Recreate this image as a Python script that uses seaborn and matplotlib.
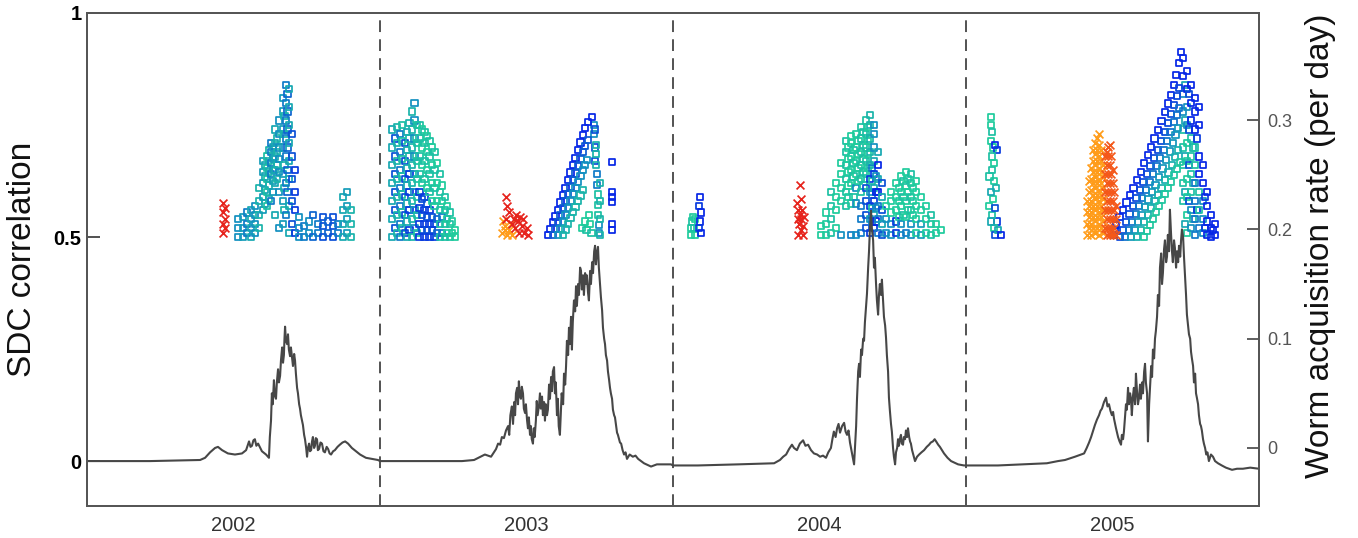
import numpy as np
import pandas as pd
import matplotlib
matplotlib.use("Agg")
import matplotlib.pyplot as plt
from matplotlib.colors import LinearSegmentedColormap
import seaborn as sns

# worm acquisition rate (per day): (year, rate)
rate_pts = [
    # 2002
    (2002.000, -0.012), (2002.215, -0.012), (2002.386, -0.011), (2002.403, -0.009), (2002.420, -0.004),
    (2002.437, 0.000), (2002.447, 0.001), (2002.461, -0.002), (2002.481, -0.005), (2002.505, -0.006),
    (2002.529, -0.005), (2002.543, -0.002), (2002.553, 0.006), (2002.558, 0.001), (2002.563, 0.002),
    (2002.568, 0.007), (2002.573, 0.008), (2002.578, 0.002), (2002.584, 0.004), (2002.597, -0.003),
    (2002.611, -0.006), (2002.621, -0.009), (2002.624, 0.010), (2002.628, 0.025), (2002.631, 0.050),
    (2002.634, 0.040), (2002.638, 0.062), (2002.641, 0.048), (2002.645, 0.045), (2002.648, 0.060),
    (2002.652, 0.072), (2002.655, 0.060), (2002.659, 0.066), (2002.662, 0.080), (2002.666, 0.092),
    (2002.669, 0.078), (2002.672, 0.085), (2002.674, 0.100), (2002.676, 0.111), (2002.679, 0.098),
    (2002.683, 0.095), (2002.686, 0.104), (2002.689, 0.090), (2002.693, 0.084), (2002.696, 0.092),
    (2002.700, 0.082), (2002.703, 0.075), (2002.707, 0.086), (2002.710, 0.080), (2002.713, 0.068),
    (2002.717, 0.055), (2002.720, 0.050), (2002.724, 0.040), (2002.727, 0.036), (2002.730, 0.030),
    (2002.734, 0.025), (2002.737, 0.021), (2002.741, 0.012), (2002.744, 0.008), (2002.748, 0.000),
    (2002.751, -0.008), (2002.754, 0.000), (2002.758, 0.004), (2002.761, -0.003), (2002.765, -0.002),
    (2002.768, 0.006), (2002.771, 0.010), (2002.775, 0.000), (2002.778, 0.002), (2002.781, 0.009),
    (2002.785, 0.008), (2002.788, -0.002), (2002.792, -0.001), (2002.797, 0.005), (2002.802, 0.004),
    (2002.807, -0.003), (2002.812, -0.004), (2002.818, 0.001), (2002.823, -0.001), (2002.828, -0.005),
    (2002.833, -0.006), (2002.840, -0.003), (2002.846, -0.002), (2002.855, 0.001), (2002.863, 0.003),
    (2002.872, 0.005), (2002.881, 0.006), (2002.891, 0.004), (2002.904, 0.000), (2002.918, -0.003),
    (2002.932, -0.006), (2002.952, -0.009), (2002.973, -0.010), (2002.993, -0.011),
    # 2003
    (2003.000, -0.012), (2003.133, -0.012), (2003.280, -0.012), (2003.321, -0.011), (2003.358, -0.006),
    (2003.379, -0.008), (2003.396, -0.001), (2003.403, 0.004), (2003.410, 0.003), (2003.416, 0.010),
    (2003.423, 0.009), (2003.430, 0.016), (2003.437, 0.020), (2003.441, 0.012), (2003.445, 0.030),
    (2003.450, 0.038), (2003.454, 0.022), (2003.458, 0.042), (2003.461, 0.030), (2003.464, 0.050),
    (2003.468, 0.055), (2003.471, 0.040), (2003.474, 0.061), (2003.477, 0.048), (2003.481, 0.045),
    (2003.484, 0.056), (2003.488, 0.050), (2003.491, 0.036), (2003.495, 0.032), (2003.498, 0.040),
    (2003.502, 0.025), (2003.505, 0.018), (2003.508, 0.028), (2003.512, 0.012), (2003.515, 0.020),
    (2003.518, 0.008), (2003.522, 0.004), (2003.525, 0.018), (2003.528, 0.010), (2003.532, 0.025),
    (2003.535, 0.043), (2003.538, 0.030), (2003.543, 0.040), (2003.546, 0.050), (2003.549, 0.036),
    (2003.553, 0.047), (2003.556, 0.030), (2003.560, 0.042), (2003.563, 0.025), (2003.566, 0.040),
    (2003.570, 0.030), (2003.573, 0.035), (2003.577, 0.058), (2003.580, 0.045), (2003.584, 0.065),
    (2003.587, 0.052), (2003.590, 0.070), (2003.594, 0.074), (2003.597, 0.050), (2003.600, 0.060),
    (2003.604, 0.030), (2003.607, 0.045), (2003.610, 0.020), (2003.614, 0.012), (2003.617, 0.030),
    (2003.620, 0.050), (2003.625, 0.040), (2003.628, 0.068), (2003.632, 0.058), (2003.635, 0.075),
    (2003.638, 0.098), (2003.642, 0.085), (2003.645, 0.110), (2003.648, 0.095), (2003.652, 0.120),
    (2003.655, 0.090), (2003.658, 0.115), (2003.662, 0.135), (2003.666, 0.125), (2003.669, 0.148),
    (2003.672, 0.130), (2003.676, 0.150), (2003.679, 0.140), (2003.683, 0.165), (2003.686, 0.162),
    (2003.689, 0.145), (2003.693, 0.158), (2003.696, 0.140), (2003.700, 0.160), (2003.703, 0.150),
    (2003.706, 0.158), (2003.710, 0.142), (2003.713, 0.135), (2003.717, 0.162), (2003.720, 0.150),
    (2003.724, 0.170), (2003.727, 0.160), (2003.731, 0.180), (2003.734, 0.185), (2003.737, 0.168),
    (2003.740, 0.178), (2003.744, 0.184), (2003.747, 0.165), (2003.751, 0.150), (2003.754, 0.138),
    (2003.758, 0.126), (2003.761, 0.110), (2003.765, 0.100), (2003.768, 0.095), (2003.771, 0.085),
    (2003.775, 0.080), (2003.778, 0.070), (2003.782, 0.062), (2003.785, 0.055), (2003.788, 0.050),
    (2003.792, 0.045), (2003.795, 0.035), (2003.799, 0.030), (2003.802, 0.028), (2003.806, 0.020),
    (2003.809, 0.014), (2003.812, 0.012), (2003.816, 0.008), (2003.819, 0.005), (2003.823, 0.004),
    (2003.828, -0.002), (2003.833, -0.006), (2003.838, -0.004), (2003.843, -0.010), (2003.852, -0.006),
    (2003.863, -0.008), (2003.872, -0.007), (2003.881, -0.010), (2003.901, -0.014), (2003.925, -0.017),
    (2003.945, -0.015), (2003.973, -0.015), (2003.993, -0.015),
    # 2004
    (2004.000, -0.016), (2004.085, -0.016), (2004.222, -0.015), (2004.345, -0.014), (2004.365, -0.011),
    (2004.376, -0.008), (2004.386, -0.006), (2004.396, -0.001), (2004.406, 0.003), (2004.413, 0.000),
    (2004.423, -0.002), (2004.433, 0.004), (2004.444, 0.007), (2004.452, 0.002), (2004.461, 0.003),
    (2004.471, -0.002), (2004.481, -0.005), (2004.492, -0.006), (2004.502, -0.008), (2004.512, -0.007),
    (2004.522, -0.009), (2004.530, -0.004), (2004.539, 0.000), (2004.544, 0.008), (2004.549, 0.015),
    (2004.555, 0.010), (2004.560, 0.018), (2004.565, 0.022), (2004.570, 0.014), (2004.577, 0.020),
    (2004.584, 0.023), (2004.589, 0.015), (2004.594, 0.012), (2004.599, 0.016), (2004.604, 0.005),
    (2004.611, -0.005), (2004.618, -0.015), (2004.621, 0.000), (2004.625, 0.020), (2004.628, 0.045),
    (2004.632, 0.070), (2004.635, 0.077), (2004.638, 0.065), (2004.642, 0.090), (2004.645, 0.085),
    (2004.649, 0.100), (2004.652, 0.098), (2004.655, 0.115), (2004.659, 0.130), (2004.662, 0.141),
    (2004.666, 0.165), (2004.669, 0.180), (2004.672, 0.200), (2004.676, 0.217), (2004.679, 0.200),
    (2004.683, 0.190), (2004.686, 0.165), (2004.689, 0.174), (2004.693, 0.150), (2004.696, 0.135),
    (2004.700, 0.122), (2004.703, 0.140), (2004.706, 0.150), (2004.710, 0.140), (2004.713, 0.154),
    (2004.717, 0.135), (2004.720, 0.120), (2004.724, 0.112), (2004.727, 0.101), (2004.730, 0.085),
    (2004.734, 0.070), (2004.737, 0.046), (2004.740, 0.035), (2004.744, 0.022), (2004.747, 0.015),
    (2004.751, 0.000), (2004.754, -0.008), (2004.758, -0.015), (2004.761, -0.004), (2004.765, 0.000),
    (2004.768, 0.008), (2004.771, 0.002), (2004.775, 0.009), (2004.778, 0.012), (2004.781, 0.004),
    (2004.785, 0.003), (2004.788, 0.010), (2004.792, 0.008), (2004.795, 0.016), (2004.799, 0.010),
    (2004.802, 0.018), (2004.806, 0.010), (2004.809, 0.006), (2004.812, 0.004), (2004.816, -0.002),
    (2004.820, -0.006), (2004.826, -0.012), (2004.833, -0.008), (2004.840, -0.006), (2004.848, -0.004),
    (2004.857, -0.002), (2004.866, 0.001), (2004.874, 0.003), (2004.880, 0.005), (2004.887, 0.006),
    (2004.893, 0.008), (2004.898, 0.006), (2004.905, 0.003), (2004.911, 0.001), (2004.918, -0.002),
    (2004.925, -0.005), (2004.937, -0.009), (2004.949, -0.012), (2004.973, -0.015), (2004.993, -0.016),
    # 2005
    (2005.000, -0.016), (2005.109, -0.016), (2005.276, -0.014), (2005.314, -0.012), (2005.338, -0.011),
    (2005.372, -0.008), (2005.403, -0.005), (2005.412, 0.000), (2005.420, 0.005), (2005.427, 0.010),
    (2005.433, 0.015), (2005.440, 0.021), (2005.447, 0.026), (2005.454, 0.030), (2005.459, 0.034),
    (2005.464, 0.036), (2005.471, 0.042), (2005.478, 0.046), (2005.483, 0.038), (2005.488, 0.040),
    (2005.493, 0.034), (2005.498, 0.030), (2005.502, 0.033), (2005.505, 0.027), (2005.512, 0.018),
    (2005.519, 0.010), (2005.524, 0.006), (2005.529, 0.003), (2005.532, 0.012), (2005.536, 0.008),
    (2005.539, 0.015), (2005.543, 0.030), (2005.546, 0.040), (2005.549, 0.035), (2005.553, 0.055),
    (2005.556, 0.040), (2005.560, 0.050), (2005.563, 0.045), (2005.566, 0.030), (2005.570, 0.048),
    (2005.573, 0.055), (2005.577, 0.040), (2005.580, 0.068), (2005.584, 0.050), (2005.587, 0.040),
    (2005.590, 0.045), (2005.594, 0.058), (2005.597, 0.045), (2005.601, 0.060), (2005.604, 0.050),
    (2005.608, 0.070), (2005.611, 0.077), (2005.614, 0.060), (2005.618, 0.050), (2005.621, 0.006),
    (2005.625, 0.040), (2005.628, 0.055), (2005.632, 0.075), (2005.635, 0.065), (2005.638, 0.090),
    (2005.642, 0.082), (2005.645, 0.100), (2005.648, 0.107), (2005.652, 0.120), (2005.655, 0.140),
    (2005.659, 0.130), (2005.662, 0.165), (2005.666, 0.178), (2005.669, 0.150), (2005.672, 0.160),
    (2005.676, 0.182), (2005.679, 0.190), (2005.683, 0.170), (2005.686, 0.175), (2005.689, 0.195),
    (2005.693, 0.180), (2005.696, 0.218), (2005.700, 0.195), (2005.703, 0.180), (2005.706, 0.170),
    (2005.710, 0.190), (2005.713, 0.183), (2005.717, 0.165), (2005.720, 0.180), (2005.724, 0.170),
    (2005.727, 0.185), (2005.731, 0.175), (2005.734, 0.190), (2005.737, 0.200), (2005.741, 0.193),
    (2005.744, 0.175), (2005.747, 0.160), (2005.751, 0.140), (2005.754, 0.122), (2005.758, 0.112),
    (2005.761, 0.104), (2005.765, 0.100), (2005.768, 0.088), (2005.771, 0.082), (2005.775, 0.075),
    (2005.778, 0.060), (2005.782, 0.068), (2005.785, 0.050), (2005.788, 0.046), (2005.792, 0.040),
    (2005.795, 0.030), (2005.799, 0.022), (2005.802, 0.020), (2005.805, 0.016), (2005.809, 0.008),
    (2005.812, 0.004), (2005.816, 0.000), (2005.820, -0.006), (2005.824, -0.004), (2005.829, -0.012),
    (2005.836, -0.006), (2005.843, -0.008), (2005.850, -0.012), (2005.860, -0.014), (2005.873, -0.016),
    (2005.887, -0.018), (2005.898, -0.019), (2005.908, -0.020), (2005.925, -0.019), (2005.945, -0.019),
    (2005.970, -0.018), (2006.000, -0.019),
]

# SDC correlation above 0.5, squares: columns of (year, shade, correlations)
# shade 0 = teal, 1 = blue
sq_cols = [
    # 2002
    (2002.515, 0.5, [0.50, 0.52, 0.54]), (2002.532, 0.4, [0.50, 0.52, 0.545]),
    (2002.546, 0.6, [0.51, 0.53, 0.555]), (2002.560, 0.3, [0.50, 0.52, 0.54, 0.56]),
    (2002.573, 0.5, [0.51, 0.53, 0.55, 0.57]), (2002.587, 0.2, [0.52, 0.55, 0.58, 0.61]),
    (2002.601, 0.4, [0.56, 0.59, 0.62, 0.645, 0.67]), (2002.607, 0.3, [0.575, 0.605, 0.635, 0.66]),
    (2002.614, 0.1, [0.57, 0.60, 0.63, 0.655, 0.68]), (2002.621, 0.2, [0.585, 0.615, 0.645, 0.67, 0.695]),
    (2002.628, 0.6, [0.58, 0.64, 0.665, 0.69, 0.71]), (2002.635, 0.4, [0.60, 0.625, 0.65, 0.675, 0.70]),
    (2002.642, 0.3, [0.55, 0.62, 0.65, 0.68, 0.71, 0.74]), (2002.649, 0.2, [0.63, 0.66, 0.69, 0.72]),
    (2002.655, 0.5, [0.52, 0.60, 0.645, 0.675, 0.70, 0.73, 0.76]),
    (2002.669, 0.4, [0.53, 0.58, 0.64, 0.70, 0.74, 0.78, 0.81]), (2002.674, 0.2, [0.56, 0.61, 0.66, 0.73, 0.77]),
    (2002.679, 0.6, [0.55, 0.62, 0.68, 0.72, 0.76, 0.80, 0.84]), (2002.684, 0.7, [0.60, 0.65, 0.70, 0.74, 0.78, 0.82]),
    (2002.689, 0.3, [0.51, 0.57, 0.63, 0.67, 0.71, 0.75, 0.79, 0.83]),
    (2002.700, 0.8, [0.53, 0.58, 0.63, 0.68, 0.73]), (2002.710, 0.9, [0.51, 0.56, 0.60, 0.65]),
    (2002.724, 0.5, [0.50, 0.52, 0.545]), (2002.741, 0.6, [0.50, 0.525]), (2002.758, 0.5, [0.51, 0.535]),
    (2002.771, 0.7, [0.50, 0.55]), (2002.788, 0.6, [0.51, 0.53]), (2002.805, 0.8, [0.50, 0.525, 0.545]),
    (2002.823, 0.7, [0.51, 0.535]), (2002.840, 0.8, [0.50, 0.525, 0.545]), (2002.857, 0.6, [0.51, 0.53]),
    (2002.874, 0.3, [0.50, 0.53, 0.56, 0.59]), (2002.887, 0.4, [0.51, 0.54, 0.57, 0.60]),
    (2002.901, 0.2, [0.50, 0.53, 0.56]),
    # 2003, first burst
    (2003.041, 0.3, [0.50, 0.54, 0.58, 0.62, 0.66, 0.70, 0.74]), (2003.050, 0.8, [0.52, 0.56, 0.60, 0.64, 0.68, 0.72]),
    (2003.058, 0.2, [0.51, 0.55, 0.59, 0.63, 0.67, 0.71, 0.745]), (2003.067, 0.6, [0.50, 0.53, 0.57, 0.61, 0.65, 0.69, 0.73]),
    (2003.075, 0.1, [0.52, 0.555, 0.595, 0.635, 0.675, 0.715, 0.75]), (2003.084, 0.8, [0.51, 0.55, 0.59, 0.63, 0.67, 0.71]),
    (2003.092, 0.3, [0.50, 0.535, 0.575, 0.615, 0.655, 0.695, 0.735]), (2003.101, 0.9, [0.515, 0.56, 0.60, 0.64]),
    (2003.101, 0.2, [0.68, 0.72, 0.755]), (2003.109, 0.2, [0.50, 0.54, 0.58, 0.62, 0.66, 0.70, 0.74, 0.78]),
    (2003.118, 0.5, [0.52, 0.56, 0.60, 0.64, 0.68, 0.72, 0.76, 0.80]), (2003.126, 0.1, [0.51, 0.55, 0.59, 0.63, 0.67, 0.71, 0.75]),
    (2003.135, 0.9, [0.50, 0.53, 0.565, 0.60]), (2003.135, 0.1, [0.64, 0.68, 0.72, 0.75]),
    (2003.143, 0.8, [0.515, 0.55, 0.585]), (2003.143, 0.0, [0.62, 0.66, 0.70, 0.74]),
    (2003.152, 0.9, [0.50, 0.53, 0.56, 0.59]), (2003.152, 0.1, [0.63, 0.67, 0.71, 0.735]),
    (2003.160, 0.8, [0.515, 0.545, 0.575]), (2003.160, 0.0, [0.61, 0.65, 0.69, 0.725]),
    (2003.169, 0.9, [0.50, 0.53, 0.56]), (2003.169, 0.1, [0.60, 0.64, 0.68, 0.715]),
    (2003.177, 0.8, [0.515, 0.545]), (2003.177, 0.0, [0.58, 0.62, 0.66, 0.70]),
    (2003.186, 0.9, [0.50, 0.53]), (2003.186, 0.1, [0.57, 0.61, 0.65, 0.69]),
    (2003.195, 0.7, [0.51, 0.54]), (2003.195, 0.0, [0.58, 0.62, 0.665]),
    (2003.204, 0.1, [0.50, 0.53, 0.56, 0.60, 0.64]), (2003.212, 0.6, [0.51, 0.545]), (2003.212, 0.0, [0.58, 0.615]),
    (2003.221, 0.1, [0.50, 0.53, 0.56, 0.59]), (2003.229, 0.0, [0.51, 0.54, 0.57]),
    (2003.238, 0.1, [0.50, 0.53, 0.555]), (2003.246, 0.0, [0.51, 0.535]), (2003.256, 0.0, [0.50, 0.515]),
    # 2003, second burst: right leg and stragglers
    (2003.730, 0.5, [0.75, 0.73]), (2003.733, 0.8, [0.74, 0.70, 0.67]), (2003.737, 0.2, [0.705, 0.685, 0.66]),
    (2003.741, 0.6, [0.64, 0.616]), (2003.744, 0.1, [0.595, 0.571, 0.55]), (2003.748, 0.5, [0.527, 0.51]),
    (2003.752, 0.2, [0.62, 0.58, 0.54, 0.505]), (2003.792, 1.0, [0.667, 0.60, 0.59, 0.578, 0.53, 0.515]),
    (2003.690, 0.0, [0.52]), (2003.700, 0.0, [0.535]), (2003.705, 0.1, [0.515]), (2003.712, 0.0, [0.55]),
    (2003.716, 0.0, [0.53]), (2003.722, 0.1, [0.51]),
    # 2004
    (2004.061, 0.0, [0.505, 0.52]), (2004.065, 0.1, [0.535]), (2004.068, 0.0, [0.545]), (2004.072, 0.1, [0.52]),
    (2004.075, 0.0, [0.505, 0.54]), (2004.092, 1.0, [0.59, 0.535]), (2004.088, 0.9, [0.57, 0.52]),
    (2004.095, 1.0, [0.555, 0.51]),
    (2004.505, 0.0, [0.505, 0.525]), (2004.522, 0.0, [0.505, 0.53, 0.555]), (2004.539, 0.1, [0.51, 0.54, 0.57, 0.60]),
    (2004.556, 0.0, [0.52, 0.56, 0.59, 0.62]), (2004.573, 0.5, [0.505]), (2004.573, 0.0, [0.58, 0.61, 0.64, 0.665]),
    (2004.590, 0.1, [0.57, 0.60, 0.63, 0.66, 0.69, 0.715]), (2004.599, 0.0, [0.59, 0.615, 0.645, 0.675, 0.70]),
    (2004.608, 0.6, [0.505]), (2004.608, 0.0, [0.575, 0.62, 0.65, 0.68, 0.71, 0.725]),
    (2004.616, 0.1, [0.59, 0.635, 0.665, 0.695]), (2004.625, 0.5, [0.505, 0.575, 0.61]),
    (2004.625, 0.0, [0.64, 0.67, 0.70, 0.73]), (2004.633, 0.0, [0.625, 0.655, 0.685, 0.715]),
    (2004.642, 0.6, [0.51, 0.54, 0.57]), (2004.642, 0.1, [0.60, 0.63, 0.66, 0.69, 0.72, 0.745]),
    (2004.650, 0.1, [0.615, 0.645, 0.675, 0.705, 0.735]), (2004.659, 0.8, [0.52, 0.55, 0.58, 0.61]),
    (2004.659, 0.1, [0.64, 0.67, 0.70, 0.73, 0.76]), (2004.666, 0.0, [0.655, 0.685, 0.715, 0.745]),
    (2004.672, 0.9, [0.51, 0.57, 0.63]), (2004.672, 0.4, [0.54, 0.60]), (2004.672, 0.2, [0.66, 0.69, 0.72, 0.75, 0.772]),
    (2004.679, 0.6, [0.535, 0.595, 0.655]), (2004.679, 0.1, [0.565, 0.625]),
    (2004.686, 0.9, [0.52, 0.58, 0.64]), (2004.686, 0.3, [0.55, 0.61, 0.67]),
    (2004.686, 0.5, [0.70, 0.73, 0.75]), (2004.693, 1.0, [0.535, 0.60]), (2004.693, 0.5, [0.565, 0.635]),
    (2004.700, 0.6, [0.51, 0.54, 0.57]), (2004.700, 1.0, [0.60, 0.66]), (2004.700, 0.3, [0.63, 0.69]),
    (2004.713, 0.8, [0.505, 0.56, 0.62]), (2004.713, 0.3, [0.53, 0.59]), (2004.727, 0.5, [0.51, 0.54]), (2004.727, 0.0, [0.57]),
    (2004.744, 0.5, [0.505, 0.53]), (2004.744, 0.0, [0.555, 0.58, 0.60]), (2004.761, 0.9, [0.51, 0.535]),
    (2004.761, 0.0, [0.56, 0.59, 0.62]), (2004.770, 0.0, [0.545, 0.58, 0.61]), (2004.778, 0.5, [0.505, 0.53]),
    (2004.778, 0.0, [0.57, 0.60, 0.635]), (2004.787, 0.1, [0.55, 0.59, 0.625]), (2004.795, 0.6, [0.51]),
    (2004.795, 0.0, [0.545, 0.58, 0.615, 0.645]), (2004.803, 0.0, [0.56, 0.60, 0.63]),
    (2004.812, 0.5, [0.505, 0.53]), (2004.812, 0.1, [0.56, 0.59, 0.62, 0.64]), (2004.820, 0.0, [0.55, 0.58, 0.61]),
    (2004.829, 0.0, [0.51, 0.54, 0.57, 0.60, 0.625]), (2004.846, 0.4, [0.505, 0.53]), (2004.846, 0.0, [0.56, 0.59]),
    (2004.863, 0.0, [0.51, 0.54, 0.57]), (2004.881, 0.1, [0.505, 0.53, 0.55]), (2004.898, 0.0, [0.51, 0.53]),
    (2004.915, 0.0, [0.515]),
    # 2005
    (2005.085, 0.0, [0.768, 0.75, 0.715]), (2005.088, 0.1, [0.735, 0.65]), (2005.092, 0.0, [0.70, 0.585]),
    (2005.099, 1.0, [0.705]), (2005.105, 0.9, [0.695, 0.535]), (2005.090, 0.1, [0.68, 0.55]),
    (2005.095, 0.0, [0.665, 0.625, 0.52]), (2005.080, 0.1, [0.635]), (2005.102, 0.2, [0.61]),
    (2005.085, 0.3, [0.60, 0.535]), (2005.078, 0.0, [0.57]), (2005.100, 0.8, [0.565, 0.505]),
    (2005.110, 0.3, [0.515]), (2005.120, 1.0, [0.505]),
    (2005.741, 1.0, [0.90, 0.86]), (2005.741, 0.5, [0.82, 0.78]), (2005.741, 0.1, [0.74, 0.70, 0.66, 0.62, 0.58]),
    (2005.748, 0.3, [0.84, 0.76, 0.68, 0.60, 0.53]), (2005.754, 1.0, [0.87, 0.83]), (2005.754, 0.5, [0.79, 0.75]),
    (2005.754, 0.0, [0.71, 0.67, 0.63, 0.59, 0.55, 0.51]), (2005.761, 0.8, [0.82, 0.74, 0.66, 0.58]),
    (2005.768, 1.0, [0.84, 0.80, 0.76]), (2005.768, 0.1, [0.72, 0.68, 0.64, 0.60]), (2005.768, 0.5, [0.56, 0.52]),
    (2005.775, 0.2, [0.70, 0.62, 0.54]), (2005.782, 1.0, [0.81, 0.78, 0.74]), (2005.782, 0.1, [0.70, 0.66]),
    (2005.782, 0.6, [0.62, 0.58, 0.54, 0.505]), (2005.788, 0.9, [0.72, 0.56]),
    (2005.795, 1.0, [0.79, 0.75, 0.68, 0.64]), (2005.795, 0.1, [0.60, 0.56]), (2005.795, 0.6, [0.52]),
    (2005.809, 1.0, [0.66, 0.62]), (2005.809, 0.5, [0.58, 0.54, 0.51]), (2005.816, 0.9, [0.59, 0.52]),
    (2005.823, 1.0, [0.60, 0.57, 0.535, 0.505]), (2005.836, 1.0, [0.55, 0.52, 0.50]),
    (2005.843, 1.0, [0.515]), (2005.850, 1.0, [0.53, 0.505]),
]

# diagonal runs of squares (one lag each): (shade, [(year, correlation), ...])
sq_runs = [
    (1.0, [(2003.573, 0.504), (2003.582, 0.518), (2003.590, 0.533), (2003.599, 0.546), (2003.608, 0.560),
           (2003.616, 0.577), (2003.625, 0.594), (2003.633, 0.610), (2003.642, 0.627), (2003.650, 0.644),
           (2003.659, 0.661), (2003.667, 0.677), (2003.676, 0.694), (2003.684, 0.711), (2003.693, 0.728),
           (2003.701, 0.743), (2003.710, 0.757), (2003.724, 0.768)]),
    (0.75, [(2003.590, 0.504), (2003.599, 0.518), (2003.607, 0.533), (2003.616, 0.549), (2003.624, 0.565),
            (2003.633, 0.580), (2003.641, 0.596), (2003.650, 0.611), (2003.658, 0.627), (2003.667, 0.642),
            (2003.676, 0.658), (2003.684, 0.674), (2003.693, 0.690), (2003.701, 0.703), (2003.710, 0.717)]),
    (0.5, [(2003.607, 0.504), (2003.616, 0.518), (2003.624, 0.533), (2003.633, 0.549), (2003.641, 0.565),
           (2003.650, 0.580), (2003.658, 0.596), (2003.667, 0.610), (2003.676, 0.623), (2003.684, 0.637),
           (2003.693, 0.650), (2003.700, 0.660), (2003.706, 0.672)]),
    (0.2, [(2003.624, 0.504), (2003.633, 0.517), (2003.641, 0.530), (2003.650, 0.543), (2003.658, 0.556),
           (2003.667, 0.568), (2003.676, 0.580), (2003.684, 0.593), (2003.693, 0.605)]),
    (1.0, [(2005.505, 0.505), (2005.508, 0.515), (2005.512, 0.527), (2005.524, 0.545), (2005.536, 0.560),
           (2005.548, 0.577), (2005.560, 0.594), (2005.572, 0.610), (2005.584, 0.627), (2005.596, 0.646),
           (2005.608, 0.665), (2005.620, 0.683), (2005.631, 0.701), (2005.643, 0.720), (2005.655, 0.739),
           (2005.667, 0.759), (2005.679, 0.779), (2005.690, 0.798), (2005.700, 0.817), (2005.709, 0.840),
           (2005.717, 0.862), (2005.726, 0.888), (2005.734, 0.913)]),
    (0.85, [(2005.526, 0.500), (2005.536, 0.516), (2005.546, 0.533), (2005.558, 0.551), (2005.570, 0.569),
            (2005.582, 0.587), (2005.594, 0.605), (2005.606, 0.623), (2005.618, 0.641), (2005.630, 0.658),
            (2005.642, 0.676), (2005.654, 0.695), (2005.666, 0.714), (2005.678, 0.734), (2005.689, 0.754),
            (2005.700, 0.775), (2005.710, 0.795), (2005.719, 0.814), (2005.727, 0.833)]),
    (0.65, [(2005.543, 0.500), (2005.555, 0.516), (2005.567, 0.533), (2005.579, 0.551), (2005.590, 0.569),
            (2005.602, 0.587), (2005.614, 0.605), (2005.626, 0.623), (2005.638, 0.641), (2005.650, 0.658),
            (2005.662, 0.676), (2005.674, 0.695), (2005.686, 0.714), (2005.698, 0.735), (2005.710, 0.757),
            (2005.719, 0.772), (2005.727, 0.788)]),
    (0.45, [(2005.563, 0.500), (2005.575, 0.516), (2005.587, 0.533), (2005.599, 0.550), (2005.611, 0.567),
            (2005.623, 0.584), (2005.635, 0.600), (2005.647, 0.617), (2005.659, 0.634), (2005.671, 0.653),
            (2005.683, 0.672), (2005.695, 0.691), (2005.706, 0.710), (2005.715, 0.727), (2005.724, 0.743)]),
    (0.25, [(2005.584, 0.500), (2005.596, 0.516), (2005.608, 0.533), (2005.620, 0.549), (2005.631, 0.565),
            (2005.643, 0.580), (2005.655, 0.594), (2005.667, 0.610), (2005.679, 0.627), (2005.691, 0.644),
            (2005.703, 0.661), (2005.714, 0.678), (2005.724, 0.694)]),
    (0.05, [(2005.608, 0.500), (2005.618, 0.513), (2005.628, 0.527), (2005.638, 0.541), (2005.648, 0.556),
            (2005.659, 0.570), (2005.669, 0.583), (2005.679, 0.596), (2005.689, 0.609), (2005.700, 0.623),
            (2005.710, 0.638), (2005.720, 0.652), (2005.730, 0.667)]),
]

# crosses: columns of (year, correlations) by colour
x_red = [
    (2002.465, [0.51, 0.53, 0.555, 0.575]), (2002.470, [0.52, 0.54, 0.565]),
    (2003.430, [0.59, 0.54]), (2003.433, [0.57]), (2003.440, [0.555]), (2003.450, [0.53]),
    (2003.458, [0.54]), (2003.460, [0.52]), (2003.465, [0.55]), (2003.470, [0.535]), (2003.475, [0.51]),
    (2003.478, [0.545]), (2003.485, [0.525]), (2003.488, [0.54]), (2003.492, [0.51]), (2003.500, [0.52]),
    (2003.505, [0.505]),
    (2004.433, [0.616, 0.55]), (2004.422, [0.575]), (2004.428, [0.56]), (2004.438, [0.54]), (2004.430, [0.53]),
    (2004.442, [0.525]), (2004.436, [0.515, 0.585]), (2004.445, [0.505]), (2004.427, [0.505]),
    (2004.448, [0.545]), (2004.440, [0.56]), (2004.425, [0.54]),
]
x_orange = [
    (2003.418, [0.51]), (2003.425, [0.525]), (2003.432, [0.505]), (2003.440, [0.515]), (2003.447, [0.53]),
    (2003.452, [0.505]), (2003.420, [0.535]), (2003.428, [0.515]),
    (2005.413, [0.505, 0.53, 0.555, 0.58]), (2005.420, [0.52, 0.545, 0.57, 0.60, 0.625]),
    (2005.427, [0.505, 0.53, 0.555, 0.58, 0.605, 0.63, 0.655]),
    (2005.434, [0.52, 0.545, 0.57, 0.595, 0.62, 0.645, 0.67, 0.695]),
    (2005.440, [0.51, 0.535, 0.56, 0.585, 0.61, 0.635, 0.66, 0.685, 0.71]),
    (2005.447, [0.52, 0.545, 0.57, 0.595, 0.62, 0.645, 0.67, 0.695, 0.72]),
    (2005.454, [0.505, 0.53, 0.555, 0.58, 0.605, 0.63, 0.655, 0.68, 0.705, 0.73]),
    (2005.461, [0.52, 0.545, 0.57, 0.595, 0.62, 0.645, 0.67, 0.695]),
    (2005.468, [0.51, 0.535, 0.56, 0.585, 0.61, 0.635, 0.66]),
]
x_orangered = [
    (2005.474, [0.52, 0.56, 0.60, 0.64, 0.68]), (2005.480, [0.505, 0.54, 0.58, 0.62, 0.66, 0.69]),
    (2005.485, [0.52, 0.56, 0.60, 0.64, 0.68, 0.70]), (2005.490, [0.505, 0.54, 0.58, 0.62, 0.66, 0.705]),
    (2005.495, [0.52, 0.56, 0.60, 0.64, 0.68]), (2005.500, [0.505, 0.54, 0.58, 0.62, 0.65]),
    (2005.505, [0.52, 0.56, 0.60]), (2005.512, [0.505, 0.54, 0.57]),
]

years = [2002, 2003, 2004, 2005]

# ---- tables ----
rate = pd.DataFrame(rate_pts, columns=["t", "rate"])

rows = [(t, c, sh) for t, sh, vals in sq_cols for c in vals]
rows += [(t, c, sh) for sh, pts in sq_runs for t, c in pts]
squares = pd.DataFrame(rows, columns=["t", "sdc", "shade"])


def crosses(cols):
    return pd.DataFrame([(t, c) for t, vals in cols for c in vals], columns=["t", "sdc"])


sns.set_style("white")
plt.rcParams["font.family"] = ["Liberation Sans", "DejaVu Sans"]

fig = plt.figure(figsize=(13.58, 5.38), dpi=100)
ax = fig.add_axes([87 / 1358, 1 - 506 / 538, (1259 - 87) / 1358, (506 - 13) / 538])

lag_cmap = LinearSegmentedColormap.from_list("lag", ["#1FCC9C", "#1290C0", "#0626E6"])

sns.scatterplot(data=squares, x="t", y="sdc", hue="shade", palette=lag_cmap, hue_norm=(0, 1),
                marker="s", s=20, linewidth=1.25, legend=False, ax=ax)
pts = ax.collections[-1]
pts.set_edgecolors(pts.get_facecolors())
pts.set_facecolors("none")

for cols, col in [(x_orange, "#FF9C1A"), (x_orangered, "#F4581A"), (x_red, "#E6231C")]:
    sns.scatterplot(data=crosses(cols), x="t", y="sdc", marker="x", color=col,
                    s=32, linewidth=1.25, legend=False, ax=ax)

for yr in years[1:]:
    ax.axvline(yr, color="#444444", lw=1.3, ls=(0, (6.5, 4)), zorder=1)

ax.set_xlim(2002, 2006)
ax.set_ylim(-0.1, 1.0)
ax.set_xticks([y + 0.5 for y in years], labels=[str(y) for y in years])
ax.set_yticks([0, 0.5, 1], labels=["0", "0.5", "1"], fontweight="bold")
ax.tick_params(axis="x", length=0, pad=7, labelsize=14.5, labelcolor="#333333")
ax.tick_params(axis="y", direction="in", length=9, width=1.2, color="#333333",
               labelsize=14.5, pad=4, labelcolor="black")
ax.set_xlabel("")
ax.set_ylabel("")

ax2 = ax.twinx()
sns.lineplot(data=rate, x="t", y="rate", estimator=None, sort=False, color="#474747",
             linewidth=1.5, ax=ax2)
ax2.set_xlim(2002, 2006)
ax2.set_ylim(-0.0531, 0.398)
ax2.set_yticks([0, 0.1, 0.2, 0.3], labels=["0", "0.1", "0.2", "0.3"])
ax2.tick_params(axis="y", direction="in", length=9, width=1.2, color="#444444",
                labelsize=13, pad=6, labelcolor="#555555")
ax2.set_ylabel("")
ax2.set_xlabel("")

for a in (ax, ax2):
    for sp in a.spines.values():
        sp.set_color("#555555")
        sp.set_linewidth(1.3)

fig.text(23 / 1358, 1 - 259 / 538, "SDC correlation", rotation=90,
         ha="center", va="center", fontsize=24, color="#111111")
fig.text(1320 / 1358, 1 - 246 / 538, "Worm acquisition rate (per day)", rotation=90,
         ha="center", va="center", fontsize=24, color="#111111")

fig.savefig("out.png", dpi=100)
